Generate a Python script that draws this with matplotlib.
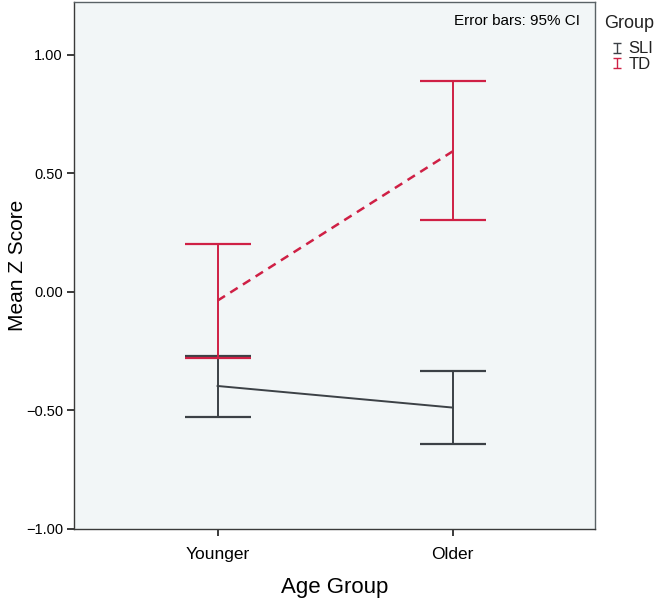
import matplotlib
matplotlib.use("Agg")
import matplotlib.pyplot as plt
from matplotlib.legend_handler import HandlerErrorbar
from matplotlib.container import ErrorbarContainer
import numpy as np

plt.rcParams['font.family'] = ['Liberation Sans', 'DejaVu Sans']

categories = ["Younger", "Older"]
groups = ["SLI", "TD"]
sli_mean = [-0.397, -0.488]
sli_low = [-0.526, -0.642]
sli_high = [-0.271, -0.333]
td_mean = [-0.037, 0.592]
td_low = [-0.281, 0.301]
td_high = [0.202, 0.887]
yticks = [-1.0, -0.5, 0.0, 0.5, 1.0]
ytick_labels = ["\u22121.00", "\u22120.50", "0.00", "0.50", "1.00"]

sli_color = "#3c4146"
td_color = "#cf2045"

W, H = 664, 601
fig = plt.figure(figsize=(W/100, H/100), dpi=100)
ax = fig.add_axes([74/W, 1-529/H, (595-74)/W, (529-2)/H])
ax.set_facecolor("#f2f6f7")

x = list(range(len(categories)))

ax.plot(x, sli_mean, color=sli_color, lw=1.4, zorder=3)
ax.plot(x, td_mean, color=td_color, lw=1.8, ls=(0, (3.5, 2.5)), zorder=3)

def err(mean, lo, hi):
    return [[m - l for m, l in zip(mean, lo)], [h - m for m, h in zip(mean, hi)]]

ax.errorbar(x, sli_mean, yerr=err(sli_mean, sli_low, sli_high), fmt='none',
            ecolor=sli_color, elinewidth=1.4, capsize=24, capthick=1.6, zorder=2)
ax.errorbar(x, td_mean, yerr=err(td_mean, td_low, td_high), fmt='none',
            ecolor=td_color, elinewidth=1.4, capsize=24, capthick=1.6, zorder=2.5)

# legend proxies (small I-shaped error bars)
h1 = ax.errorbar([np.nan], [np.nan], yerr=[[0.1], [0.1]], fmt='none', ecolor=sli_color,
                 elinewidth=1.0, capsize=3, capthick=1.0, label=groups[0])
h2 = ax.errorbar([np.nan], [np.nan], yerr=[[0.1], [0.1]], fmt='none', ecolor=td_color,
                 elinewidth=1.0, capsize=3, capthick=1.0, label=groups[1])

ax.set_xlim(-0.611, 1.606)
ax.set_ylim(-1.0, 1.222)
ax.set_xticks(x)
ax.set_xticklabels(categories, fontsize=12.5)
ax.set_yticks(yticks)
ax.set_yticklabels(ytick_labels, fontsize=10.5)
ax.tick_params(axis='both', direction='out', length=5, width=1.4, color="#3a3a3a", pad=3)
ax.tick_params(axis='x', pad=8)
for s in ax.spines.values():
    s.set_color("#5a6266")
    s.set_linewidth(1.0)
ax.spines['bottom'].set_color("#3a3a3a")
ax.spines['left'].set_color("#3a3a3a")

ax.set_xlabel("Age Group", fontsize=16)
ax.set_ylabel("Mean Z Score", fontsize=15)
ax.xaxis.label.set_va('center')
ax.yaxis.label.set_va('center')
ax.xaxis.set_label_coords(0.5, (529-587)/527)
ax.yaxis.set_label_coords((18-74)/521, 0.5)

ax.text((580-74)/521, (529-21)/527, "Error bars: 95% CI", transform=ax.transAxes,
        ha='right', va='center', fontsize=11)

fig.text(604/W, 1-24/H, "Group", ha='left', va='center', fontsize=13, color="#222222")

leg = fig.legend(handles=[h1, h2], labels=groups, loc='center left',
                 bbox_to_anchor=(605/W, 1-56.5/H), frameon=False, fontsize=12,
                 handlelength=0.6, handletextpad=0.4, labelspacing=0.02,
                 borderaxespad=0.0,
                 handler_map={ErrorbarContainer: HandlerErrorbar(yerr_size=0.3)})
for t in leg.get_texts():
    t.set_color("#222222")

fig.savefig("out.png", dpi=100)
